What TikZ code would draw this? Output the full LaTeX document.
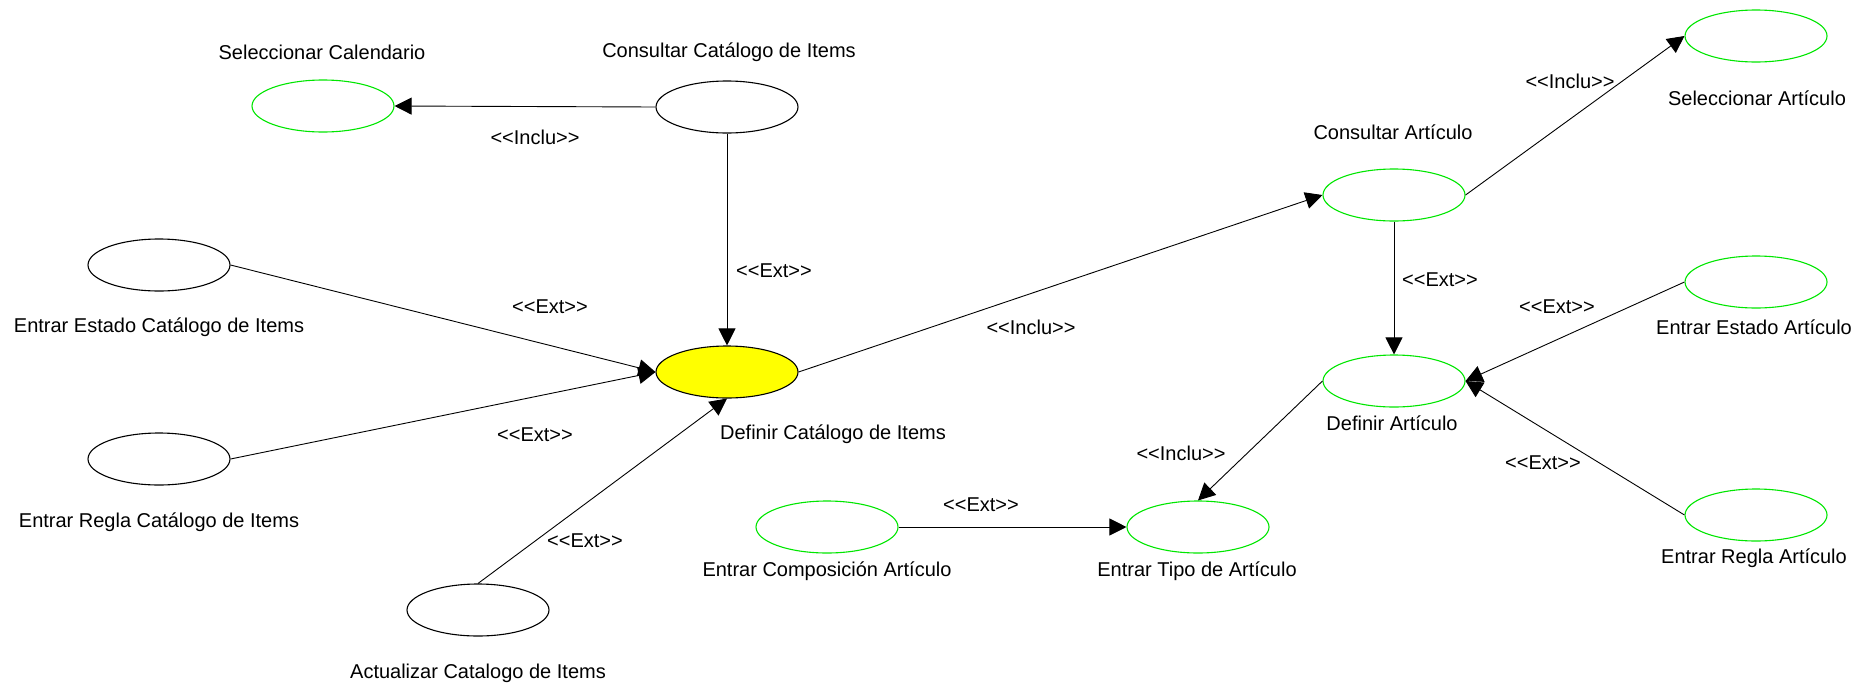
\documentclass[tikz,border=0pt]{standalone}
\usepackage{fontspec}
\setmainfont{Liberation Sans}
\usetikzlibrary{shapes.geometric,arrows.meta}
\definecolor{ucgreen}{RGB}{0,230,0}
\definecolor{ucyellow}{RGB}{255,255,0}
\newcommand{\stin}[1]{<{}<#1>{}>}
\begin{document}
\begin{tikzpicture}[x=1pt,y=-1pt,
  uc/.style={ellipse,draw=black,line width=1.1pt,minimum width=142pt,minimum height=52pt,inner sep=0pt},
  gr/.style={uc,draw=ucgreen},
  lbl/.style={font=\fontsize{20}{24}\selectfont,inner sep=0pt},
  rel/.style={line width=0.9pt,-{Triangle[length=17pt,width=17pt]}},
]
\useasboundingbox (0,0) rectangle (1865,686);
% use cases
\node[gr] (scal) at (323,106) {};
\node[uc] (ccat) at (727,107) {};
\node[uc] (eecat) at (159,265) {};
\node[uc,fill=ucyellow] (dcat) at (727,372) {};
\node[uc] (ercat) at (159,459) {};
\node[uc] (acat) at (478,610) {};
\node[gr] (cart) at (1394,195) {};
\node[gr] (sart) at (1756,36) {};
\node[gr] (eeart) at (1756,282) {};
\node[gr] (dart) at (1394,381) {};
\node[gr] (erart) at (1756,515) {};
\node[gr] (ecart) at (827,527) {};
\node[gr] (etart) at (1198,527) {};
% names
\node[lbl] (t1) at (322,52) {Seleccionar Calendario};
\node[lbl] (t2) at (729,52) {Consultar Catálogo de Items};
\node[lbl] (t3) at (159,327) {Entrar Estado Catálogo de Items};
\node[lbl] (t4) at (159,522) {Entrar Regla Catálogo de Items};
\node[lbl] (t5) at (478,673) {Actualizar Catalogo de Items};
\node[lbl] (t6) at (833,434) {Definir Catálogo de Items};
\node[lbl] (t7) at (1393,132) {Consultar Artículo};
\node[lbl] (t8) at (1757,98) {Seleccionar Artículo};
\node[lbl] (t9) at (1754,327) {Entrar Estado Artículo};
\node[lbl] (t10) at (1392,423) {Definir Artículo};
\node[lbl] (t11) at (1754,558) {Entrar Regla Artículo};
\node[lbl] (t12) at (827,571) {Entrar Composición Artículo};
\node[lbl] (t13) at (1197,571) {Entrar Tipo de Artículo};
% relations
\draw[rel] (ccat.west) -- (scal.east);
\draw[rel] (ccat.south) -- (dcat.north);
\draw[rel] (eecat.east) -- (dcat.west);
\draw[rel] (ercat.east) -- (dcat.west);
\draw[rel] (acat.north) -- (dcat.south);
\draw[rel] (dcat.east) -- (cart.west);
\draw[rel] (cart.east) -- (sart.west);
\draw[rel] (cart.south) -- (dart.north);
\draw[rel] (eeart.west) -- (dart.east);
\draw[rel] (erart.west) -- (dart.east);
\draw[rel] (dart.west) -- (etart.north);
\draw[rel] (ecart.east) -- (etart.west);
% relation labels
\node[lbl] (r1) at (535,137) {\stin{Inclu}};
\node[lbl] (r2) at (774,271) {\stin{Ext}};
\node[lbl] (r3) at (550,307) {\stin{Ext}};
\node[lbl] (r4) at (535,435) {\stin{Ext}};
\node[lbl] (r5) at (585,541) {\stin{Ext}};
\node[lbl] (r6) at (1031,327) {\stin{Inclu}};
\node[lbl] (r7) at (1570,81) {\stin{Inclu}};
\node[lbl] (r8) at (1440,280) {\stin{Ext}};
\node[lbl] (r9) at (1557,307) {\stin{Ext}};
\node[lbl] (r10) at (1543,463) {\stin{Ext}};
\node[lbl] (r11) at (1181,453) {\stin{Inclu}};
\node[lbl] (r12) at (981,505) {\stin{Ext}};
\end{tikzpicture}
\end{document}
